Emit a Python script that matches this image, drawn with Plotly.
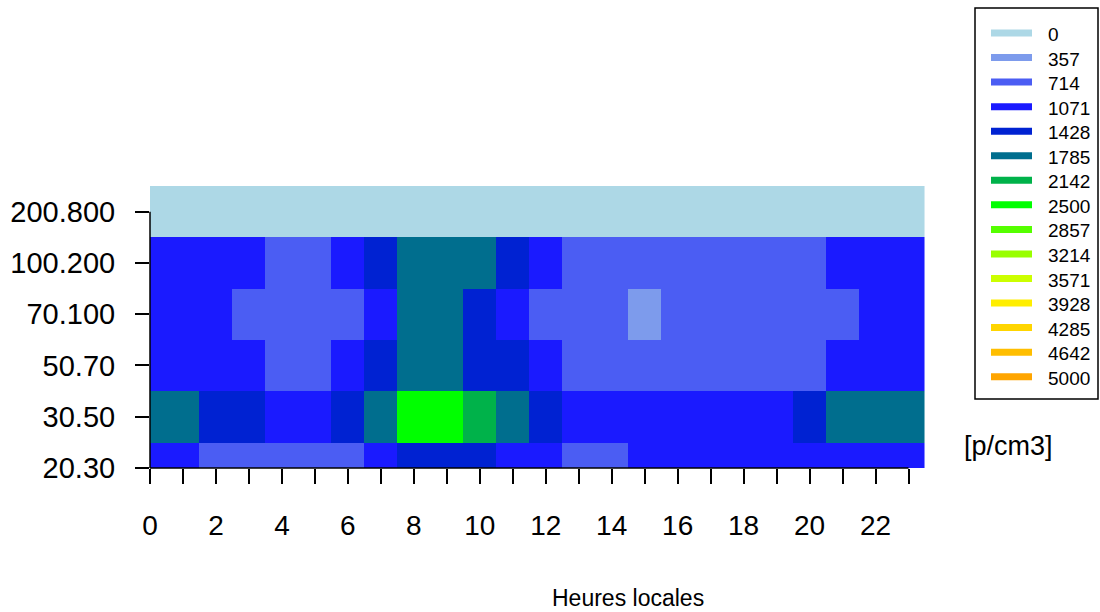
import plotly.graph_objects as go

# Hour of day (local time)
hours = list(range(24))

# Particle size classes, bottom to top
size_classes = ["20.30", "30.50", "50.70", "70.100", "100.200", "200.800"]

# Concentration levels used for the colour classes [p/cm3]
levels = [0, 357, 714, 1071, 1428, 1785, 2142, 2500, 2857, 3214, 3571, 3928, 4285, 4642, 5000]
level_colors = [
    "#ADD8E6", "#7D9BEC", "#4B5DF3", "#1A1AFF", "#0022D2", "#006E8E", "#00B24A",
    "#00FF00", "#55FF00", "#99FF00", "#CCFF00", "#FFEE00", "#FFD500", "#FFBE00", "#FFA500",
]

# Concentration per hour for each size class [p/cm3]
conc_20_30 = [1071, 1071, 714, 714, 714, 714, 714, 1071, 1428, 1428, 1428, 1071,
              1071, 714, 714, 1071, 1071, 1071, 1071, 1071, 1071, 1071, 1071, 1071]
conc_30_50 = [1785, 1785, 1428, 1428, 1071, 1071, 1428, 1785, 2500, 2500, 2142, 1785,
              1428, 1071, 1071, 1071, 1071, 1071, 1071, 1071, 1428, 1785, 1785, 1785]
conc_50_70 = [1071, 1071, 1071, 1071, 714, 714, 1071, 1428, 1785, 1785, 1428, 1428,
              1071, 714, 714, 714, 714, 714, 714, 714, 714, 1071, 1071, 1071]
conc_70_100 = [1071, 1071, 1071, 714, 714, 714, 714, 1071, 1785, 1785, 1428, 1071,
               714, 714, 714, 357, 714, 714, 714, 714, 714, 714, 1071, 1071]
conc_100_200 = [1071, 1071, 1071, 1071, 714, 714, 1071, 1428, 1785, 1785, 1785, 1428,
                1071, 714, 714, 714, 714, 714, 714, 714, 714, 1071, 1071, 1071]
conc_200_800 = [0, 0, 0, 0, 0, 0, 0, 0, 0, 0, 0, 0,
                0, 0, 0, 0, 0, 0, 0, 0, 0, 0, 0, 0]

rows = [conc_20_30, conc_30_50, conc_50_70, conc_70_100, conc_100_200, conc_200_800]

# Map each concentration to its colour class index
z_idx = [[levels.index(v) for v in row] for row in rows]
n = len(levels)
colorscale = []
for i, c in enumerate(level_colors):
    colorscale.append([i / n, c])
    colorscale.append([(i + 1) / n, c])

FONT = "Liberation Sans, Arial, Helvetica, sans-serif"

# Plot area in pixels
W, H = 1100, 612
L, R, T, B = 150, 925, 186, 468
X_MAX = 23.5
Y_MAX = len(size_classes) - 0.5


def px_x(p):
    return (p - L) / (R - L)


def px_y(p):
    return (B - p) / (B - T)


fig = go.Figure()
fig.add_trace(go.Heatmap(
    x=hours,
    y=list(range(len(size_classes))),
    z=z_idx,
    customdata=rows,
    colorscale=colorscale,
    zmin=-0.5,
    zmax=n - 0.5,
    showscale=False,
    hovertemplate="%{x} h<br>%{customdata} p/cm3<extra></extra>",
))

shapes = []
# Axis lines spanning first to last tick
shapes.append(dict(type="line", xref="paper", yref="paper",
                   x0=0, x1=23 / X_MAX, y0=0, y1=0,
                   line=dict(color="black", width=1.5)))
shapes.append(dict(type="line", xref="paper", yref="paper",
                   x0=0, x1=0, y0=0, y1=5 / Y_MAX,
                   line=dict(color="black", width=1.5)))

# Legend box with colour keys
shapes.append(dict(type="rect", xref="paper", yref="paper",
                   x0=px_x(975), x1=px_x(1098), y0=px_y(399), y1=px_y(8),
                   line=dict(color="black", width=1.5), fillcolor="white"))
annotations = []
for i, (lv, col) in enumerate(zip(levels, level_colors)):
    yc = 33 + i * 24.55
    shapes.append(dict(type="line", xref="paper", yref="paper",
                       x0=px_x(991), x1=px_x(1032), y0=px_y(yc), y1=px_y(yc),
                       line=dict(color=col, width=7)))
    annotations.append(dict(xref="paper", yref="paper", x=px_x(1046), y=px_y(yc + 1.5),
                            text=str(lv), showarrow=False, xanchor="left", yanchor="middle",
                            font=dict(family=FONT, size=19, color="black")))

annotations.append(dict(xref="paper", yref="paper", x=px_x(1008), y=px_y(446),
                        text="[p/cm3]", showarrow=False, xanchor="center", yanchor="middle",
                        font=dict(family=FONT, size=27, color="black")))
annotations.append(dict(xref="paper", yref="paper", x=px_x(628), y=px_y(598),
                        text="Heures locales", showarrow=False, xanchor="center", yanchor="middle",
                        font=dict(family=FONT, size=23, color="black")))

fig.update_layout(
    width=W, height=H,
    margin=dict(l=L, r=W - R, t=T, b=H - B, pad=0, autoexpand=False),
    paper_bgcolor="white", plot_bgcolor="white",
    shapes=shapes,
    annotations=annotations,
    showlegend=False,
)
fig.update_xaxes(
    range=[0, X_MAX],
    automargin=False,
    tickmode="array",
    tickvals=hours,
    ticktext=[str(h) if h % 2 == 0 else "" for h in hours],
    ticks="outside", ticklen=15, tickwidth=1.5, tickcolor="black",
    ticklabelstandoff=17,
    showline=False, showgrid=False, zeroline=False,
    tickfont=dict(family=FONT, size=28, color="black"),
)
fig.update_yaxes(
    range=[0, Y_MAX],
    automargin=False,
    tickmode="array",
    tickvals=list(range(len(size_classes))),
    ticktext=size_classes,
    ticks="outside", ticklen=14, tickwidth=1.5, tickcolor="black",
    ticklabelstandoff=14,
    showline=False, showgrid=False, zeroline=False,
    tickfont=dict(family=FONT, size=29, color="black"),
)

fig.write_html("out.html")
